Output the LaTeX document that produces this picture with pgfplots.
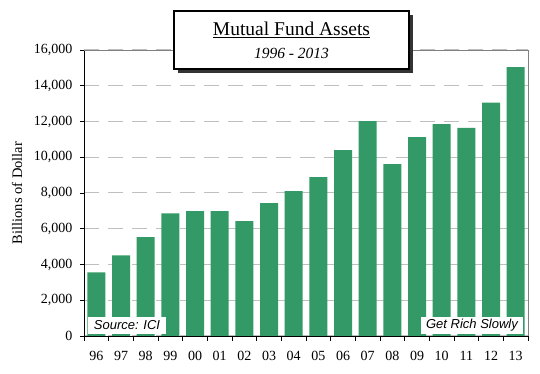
\documentclass[border=0pt]{standalone}
\usepackage{pgfplots}
\pgfplotsset{compat=1.18}
\usepackage{fontspec}
\setmainfont{Liberation Serif}
\setsansfont{Liberation Sans}
\definecolor{barg}{HTML}{339966}
\definecolor{gridg}{HTML}{BFBFBF}
\definecolor{bordg}{HTML}{808080}
\begin{document}
\begin{tikzpicture}[x=1pt,y=1pt]
\begin{axis}[
  at={(0,0)}, anchor=south west,
  scale only axis, width=444pt, height=286pt,
  xmin=-0.5, xmax=17.5, ymin=0, ymax=16000,
  axis x line*=bottom, axis y line*=left,
  axis line style={-, black, line width=0.9pt},
  ybar, bar width=18pt,
  ytick={0,2000,...,16000},
  scaled y ticks=false,
  /pgf/number format/1000 sep={,},
  /pgf/number format/assume math mode=true,
  tick label style={font=\fontsize{14}{16}\selectfont},
  yticklabel style={xshift=-4pt},
  xticklabel style={yshift=-8pt},
  xtick={0,...,17},
  xticklabels={96,97,98,99,00,01,02,03,04,05,06,07,08,09,10,11,12,13},
  major x tick style={draw=none},
  minor xtick={-0.5,0.5,...,17.5},
  minor tick length=5pt, major tick length=4pt,
  tick align=outside,
  tick style={black, line width=0.8pt},
  ymajorgrids,
  major grid style={gridg, line width=1pt, dash pattern=on 15pt off 9pt},
]
\addplot[fill=barg, draw=none] coordinates {
(0,3560) (1,4510) (2,5530) (3,6860) (4,6980) (5,6980) (6,6420) (7,7430) (8,8100)
(9,8890) (10,10400) (11,12020) (12,9610) (13,11120) (14,11850) (15,11640) (16,13050) (17,15040)};
\end{axis}
\draw[bordg, line width=0.9pt] (0,286) -- (444,286) -- (444,0);
\fill[black!80] (94,263) rectangle (329,321);
\draw[black, line width=1.2pt, fill=white] (90,267) rectangle (325,325);
\node[font=\fontsize{19.5}{22}\selectfont] at (207.5,306) {\underline{Mutual Fund Assets}};
\node[font=\fontsize{15.5}{18}\selectfont\itshape] at (207.5,283) {1996 - 2013};
\node[fill=white, inner sep=0pt, minimum width=78pt, minimum height=17pt, font=\sffamily\itshape\fontsize{13}{15}\selectfont] at (43,10.5) {Source: ICI};
\node[fill=white, inner sep=0pt, minimum width=102pt, minimum height=17pt, font=\sffamily\itshape\fontsize{13}{15}\selectfont] at (388,10.5) {Get Rich Slowly};
\node[rotate=90, font=\fontsize{14.5}{17}\selectfont] at (-67,143) {Billions of Dollar};
\pgfresetboundingbox
\path[use as bounding box] (-84,-38) rectangle (456,336);
\end{tikzpicture}
\end{document}
